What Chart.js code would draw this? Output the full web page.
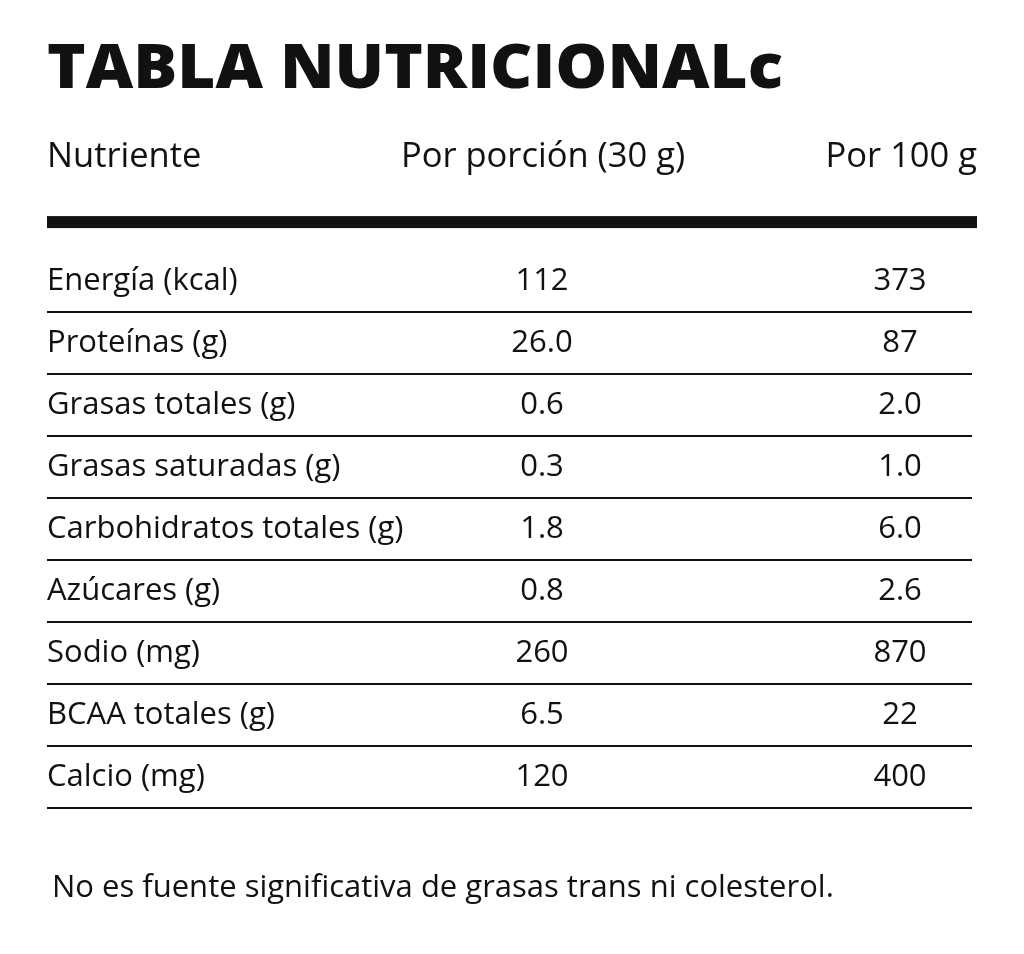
<!DOCTYPE html>
<html><head><meta charset="utf-8">
<script src="https://cdn.jsdelivr.net/npm/chart.js@4"></script>
<style>html,body{margin:0;padding:0;background:#fff}</style>
</head><body>
<div style="width:1024px;height:954px"><canvas id="c"></canvas></div>
<script>
const title = "TABLA NUTRICIONALc";
const headers = ["Nutriente", "Por porción (30 g)", "Por 100 g"];
const nutrients = ["Energía (kcal)", "Proteínas (g)", "Grasas totales (g)", "Grasas saturadas (g)",
  "Carbohidratos totales (g)", "Azúcares (g)", "Sodio (mg)", "BCAA totales (g)", "Calcio (mg)"];
const perPortion = ["112", "26.0", "0.6", "0.3", "1.8", "0.8", "260", "6.5", "120"];
const per100 = ["373", "87", "2.0", "1.0", "6.0", "2.6", "870", "22", "400"];
const footnote = "No es fuente significativa de grasas trans ni colesterol.";

const tablePlugin = {
  id: 'table',
  afterDraw(chart) {
    const ctx = chart.ctx, x = chart.scales.x, y = chart.scales.y;
    ctx.save();
    ctx.fillStyle = '#111';
    ctx.textBaseline = 'middle';
    // title, stretched to reference width
    ctx.font = '800 62px "Open Sans"';
    const w = ctx.measureText(title).width;
    ctx.save();
    ctx.translate(x.getPixelForValue(47), y.getPixelForValue(-3.4));
    ctx.scale(736 / w, 1);
    ctx.textAlign = 'left';
    ctx.fillText(title, 0, 0);
    ctx.restore();
    // headers
    ctx.font = '34.5px "Open Sans"';
    ctx.textAlign = 'left';
    ctx.fillText(headers[0], x.getPixelForValue(47), y.getPixelForValue(-2));
    ctx.textAlign = 'center';
    ctx.fillText(headers[1], x.getPixelForValue(543), y.getPixelForValue(-2));
    ctx.textAlign = 'right';
    ctx.fillText(headers[2], x.getPixelForValue(977), y.getPixelForValue(-2));
    // thick bar
    ctx.fillRect(x.getPixelForValue(47), y.getPixelForValue(-0.95) - 6, x.getPixelForValue(977) - x.getPixelForValue(47), 12);
    // rows
    ctx.font = '31px "Open Sans"';
    nutrients.forEach((n, i) => {
      const py = y.getPixelForValue(i);
      ctx.textAlign = 'left'; ctx.fillText(n, x.getPixelForValue(47), py);
      ctx.textAlign = 'center';
      ctx.fillText(perPortion[i], x.getPixelForValue(542), py);
      ctx.fillText(per100[i], x.getPixelForValue(900), py);
      const ly = y.getPixelForValue(i + 0.5);
      ctx.fillRect(x.getPixelForValue(47), ly - 1, x.getPixelForValue(972) - x.getPixelForValue(47), 2);
    });
    ctx.font = '31px "Open Sans"';
    ctx.textAlign = 'left';
    ctx.fillText(footnote, x.getPixelForValue(52), y.getPixelForValue(9.8));
    ctx.restore();
  }
};

new Chart(document.getElementById('c'), {
  type: 'scatter',
  data: { datasets: [{ data: nutrients.map((n, i) => ({ x: 47, y: i })), pointRadius: 0 }] },
  options: {
    responsive: true, maintainAspectRatio: false, animation: false,
    layout: { padding: 0 },
    plugins: { legend: { display: false }, tooltip: { enabled: false } },
    scales: {
      x: { display: false, min: 0, max: 1024 },
      y: { display: false, reverse: true, min: -281 / 62, max: (954 - 281) / 62 }
    }
  },
  plugins: [tablePlugin]
});
</script>
</body></html>
